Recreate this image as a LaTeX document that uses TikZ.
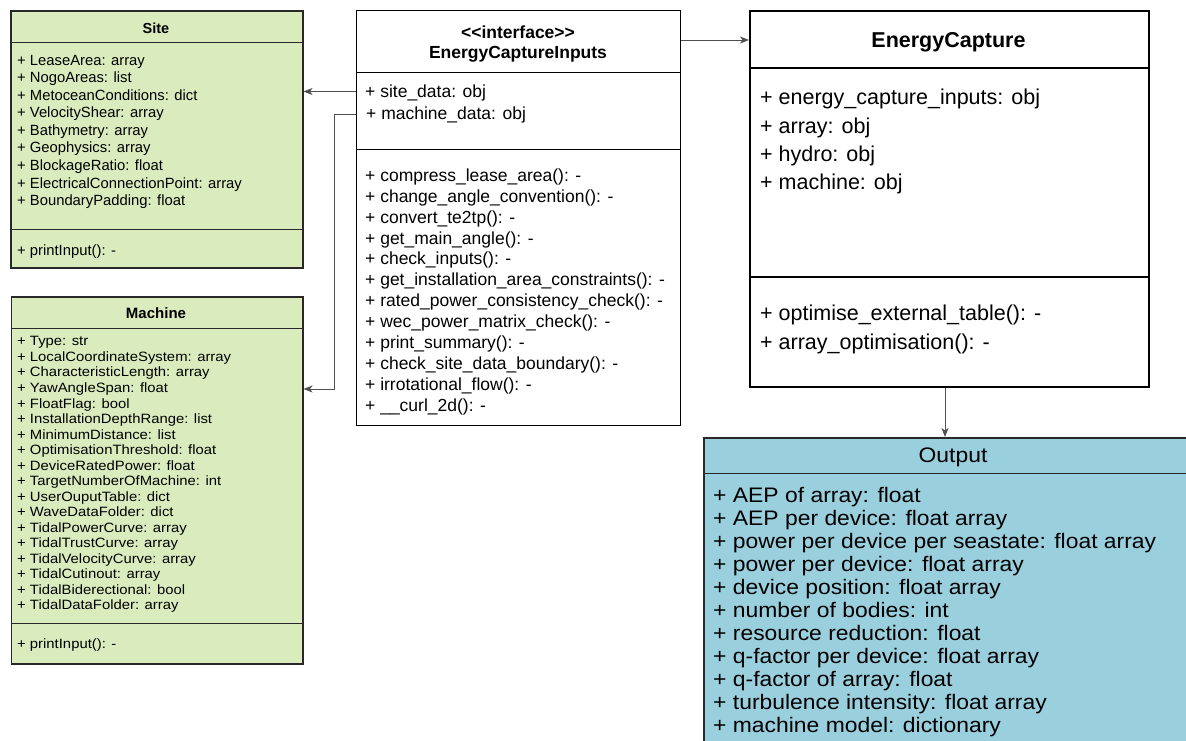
\documentclass[tikz,border=0pt]{standalone}
\usepackage{fontspec}
\setmainfont{Liberation Sans}
\newfontfamily\plainsans{Liberation Sans}[Ligatures=ResetAll]
\newfontfamily\wideM{Liberation Sans}[FakeStretch=1.1]
\newfontfamily\wideO{Liberation Sans}[FakeStretch=1.09]
\usetikzlibrary{arrows.meta}
\definecolor{sitegreen}{RGB}{218,236,190}
\definecolor{outblue}{RGB}{154,207,222}
\definecolor{edgecol}{RGB}{40,40,40}
\definecolor{conncol}{RGB}{80,80,80}
\begin{document}
\begin{tikzpicture}[x=1pt,y=-1pt,
  box/.style={draw=edgecol, anchor=north west, inner sep=0pt, line width=1.5pt},
  divider/.style={draw=edgecol, line width=1pt},
  conn/.style={draw=conncol, line width=1pt, -{Stealth[length=9pt,width=7pt,inset=2.5pt]}},
  txt/.style={anchor=base west, inner sep=0pt},
  sitetxt/.style={txt, font=\fontsize{14.8}{17}\selectfont},
  machtxt/.style={txt, font=\wideM\fontsize{13.5}{15}\selectfont},
  iftxt/.style={txt, font=\fontsize{17.5}{20}\selectfont},
  ectxt/.style={txt, font=\fontsize{21.5}{25}\selectfont},
  outtxt/.style={txt, font=\wideO\fontsize{21}{23}\selectfont}]
\useasboundingbox (0,0) rectangle (1186,740);
\clip (0,0) rectangle (1186,740);

% ---------- Site ----------
\node[box, fill=sitegreen, minimum width=292pt, minimum height=257pt] (site) at (10,10) {};
\draw[divider] (site.west |- 0,42) -- (site.east |- 0,42);
\draw[divider] (site.west |- 0,229) -- (site.east |- 0,229);
\node[anchor=base, inner sep=0pt, font=\bfseries\fontsize{14.5}{17}\selectfont] (sitetitle) at (156,33.2) {Site};
\foreach \t [count=\i from 0] in {+ LeaseArea: array, + NogoAreas: list, + MetoceanConditions: dict, + VelocityShear: array, + Bathymetry: array, + Geophysics: array, + BlockageRatio: float, + ElectricalConnectionPoint: array, + BoundaryPadding: float}
  \node[sitetxt] (sa\i) at (17,65.2+17.55*\i) {\t};
\node[sitetxt] (sm0) at (17,255) {+ printInput(): -};

% ---------- Machine ----------
\node[box, fill=sitegreen, minimum width=291.5pt, minimum height=367pt] (machine) at (10.5,296) {};
\draw[divider] (machine.west |- 0,328) -- (machine.east |- 0,328);
\draw[divider] (machine.west |- 0,623) -- (machine.east |- 0,623);
\node[anchor=base, inner sep=0pt, font=\bfseries\fontsize{15}{17}\selectfont] (machtitle) at (156,318.5) {Machine};
\foreach \t [count=\i from 0] in {+ Type: str, + LocalCoordinateSystem: array, + CharacteristicLength: array, + YawAngleSpan: float, + FloatFlag: bool, + InstallationDepthRange: list, + MinimumDistance: list, + OptimisationThreshold: float, + DeviceRatedPower: float, + TargetNumberOfMachine: int, + UserOuputTable: dict, + WaveDataFolder: dict, + TidalPowerCurve: array, + TidalTrustCurve: array, + TidalVelocityCurve: array, + TidalCutinout: array, + TidalBiderectional: bool, + TidalDataFolder: array}
  \node[machtxt] (ma\i) at (17,345.9+15.53*\i) {\t};
\node[machtxt] (mm0) at (17,648) {+ printInput(): -};

% ---------- EnergyCaptureInputs ----------
\node[box, draw=black, line width=1.3pt, fill=white, minimum width=324pt, minimum height=415pt] (iface) at (356,10) {};
\draw[divider, draw=black] (iface.west |- 0,72) -- (iface.east |- 0,72);
\draw[divider, draw=black] (iface.west |- 0,149) -- (iface.east |- 0,149);
\node[anchor=base, inner sep=0pt, font=\plainsans\bfseries\fontsize{17.5}{20}\selectfont] (ifst) at (518,38.3) {<\kern0pt<\kern0pt interface>\kern0pt>};
\node[anchor=base, inner sep=0pt, font=\bfseries\fontsize{17.5}{20}\selectfont] (iftitle) at (518,58.3) {EnergyCaptureInputs};
\node[iftxt] (ia0) at (365,97.3) {+ site\_data: obj};
\node[iftxt] (ia1) at (366,119.3) {+ machine\_data: obj};
\foreach \t [count=\i from 0] in {+ compress\_lease\_area(): -, + change\_angle\_convention(): -, + convert\_te2tp(): -, + get\_main\_angle(): -, + check\_inputs(): -, + get\_installation\_area\_constraints(): -, + rated\_power\_consistency\_check(): -, + wec\_power\_matrix\_check(): -, + print\_summary(): -, + check\_site\_data\_boundary(): -, + irrotational\_flow(): -, + \_\_curl\_2d(): -}
  \node[iftxt] (im\i) at (365,181.3+20.9*\i) {\t};

% ---------- EnergyCapture ----------
\node[box, draw=black, line width=1.8pt, fill=white, minimum width=399pt, minimum height=376pt] (ec) at (749,10) {};
\draw[divider, draw=black, line width=1.3pt] (ec.west |- 0,68) -- (ec.east |- 0,68);
\draw[divider, draw=black, line width=1.3pt] (ec.west |- 0,277) -- (ec.east |- 0,277);
\node[anchor=base, inner sep=0pt, font=\bfseries\fontsize{21.5}{25}\selectfont] (ectitle) at (948.5,47.7) {EnergyCapture};
\foreach \t [count=\i from 0] in {+ energy\_capture\_inputs: obj, + array: obj, + hydro: obj, + machine: obj}
  \node[ectxt] (ea\i) at (760,104.7+28.4*\i) {\t};
\node[ectxt] (em0) at (760,320.7) {+ optimise\_external\_table(): -};
\node[ectxt] (em1) at (760,349.7) {+ array\_optimisation(): -};

% ---------- Output ----------
\node[box, fill=outblue, minimum width=500pt, minimum height=330pt] (out) at (703,437) {};
\draw[divider] (out.west |- 0,473) -- (out.east |- 0,473);
\node[anchor=base, inner sep=0pt, font=\wideO\fontsize{21}{23}\selectfont] (outtitle) at (953,462.5) {Output};
\foreach \t [count=\i from 0] in {+ AEP of array: float, + AEP per device: float array, + power per device per seastate: float array, + power per device: float array, + device position: float array, + number of bodies: int, + resource reduction: float, + q-factor per device: float array, + q-factor of array: float, + turbulence intensity: float array, + machine model: dictionary}
  \node[outtxt] (oa\i) at (713,502.5+23*\i) {\t};

% ---------- connectors ----------
\coordinate (m1) at (334,114);
\coordinate (m2) at (334,389);
\draw[conn] (iface.west |- 0,91.5) -- (site.east |- 0,91.5);
\draw[conn] (iface.west |- m1) -- (m1) -- (m2) -- (machine.east |- m2);
\draw[conn] (iface.east |- 0,40) -- (ec.west |- 0,40);
\draw[conn] (ec.south -| 945,0) -- (out.north -| 945,0);
\end{tikzpicture}
\end{document}
